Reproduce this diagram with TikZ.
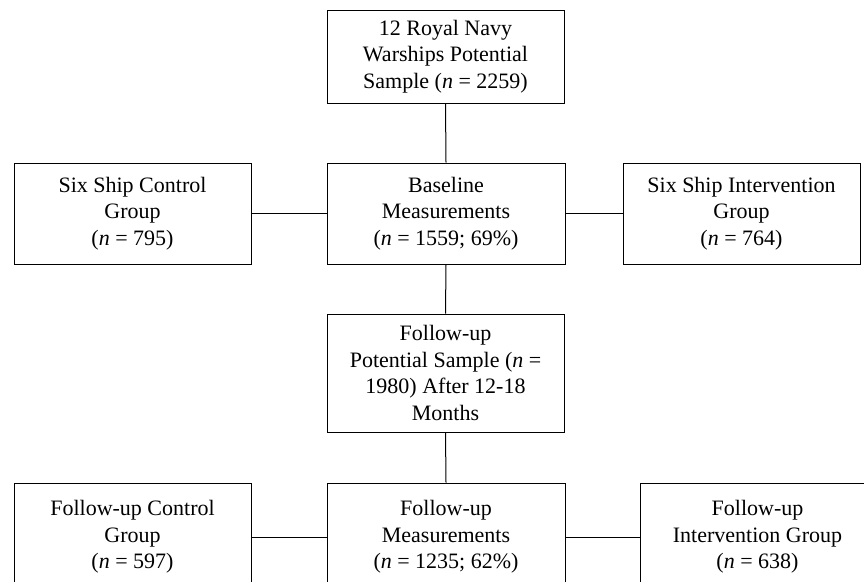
\documentclass[tikz,border=0pt]{standalone}
\usepackage{fontspec}
\setmainfont{Liberation Serif}
\begin{document}
\begin{tikzpicture}[x=1pt,y=-1pt,
  box/.style={draw=black,line width=1pt,rectangle,inner sep=0pt,align=center,
    font=\fontsize{22}{26.5}\selectfont},
  link/.style={draw=black,line width=1pt}]
\clip (0,0) rectangle (864,581);
\useasboundingbox (0,0) rectangle (864,581);
\node[box,minimum width=237,minimum height=93] (top) at (445.5,56.5)
  {12 Royal Navy\\Warships Potential\\Sample (\textit{n} = 2259)};
\node[box,minimum width=237,minimum height=101] (ctl) at (132.5,213.5)
  {Six Ship Control\\Group\\(\textit{n} = 795)};
\node[box,minimum width=238,minimum height=101] (base) at (446,213.5)
  {Baseline\\Measurements\\(\textit{n} = 1559; 69\%)};
\node[box,minimum width=237,minimum height=101] (int) at (741.5,213.5)
  {Six Ship Intervention\\Group\\(\textit{n} = 764)};
\node[box,minimum width=237,minimum height=118] (fup) at (445.5,373)
  {Follow-up\\Potential Sample (\textit{n} =\\1980) After 12-18\\Months};
\node[box,minimum width=237,minimum height=108] (fctl) at (132.5,537)
  {Follow-up Control\\Group\\(\textit{n} = 597)};
\node[box,minimum width=238,minimum height=108] (fmeas) at (446,537)
  {Follow-up\\Measurements\\(\textit{n} = 1235; 62\%)};
\node[box,minimum width=235,minimum height=108] (fint) at (757.5,537)
  {Follow-up\\Intervention Group\\(\textit{n} = 638)};
\draw[link] (top.south) -- (base.north);
\draw[link] (ctl.east) -- (base.west);
\draw[link] (base.east) -- (int.west);
\draw[link] (base.south) -- (fup.north);
\draw[link] (fup.south) -- (fmeas.north);
\draw[link] (fctl.east) -- (fmeas.west);
\draw[link] (fmeas.east) -- (fint.west);
\end{tikzpicture}
\end{document}
